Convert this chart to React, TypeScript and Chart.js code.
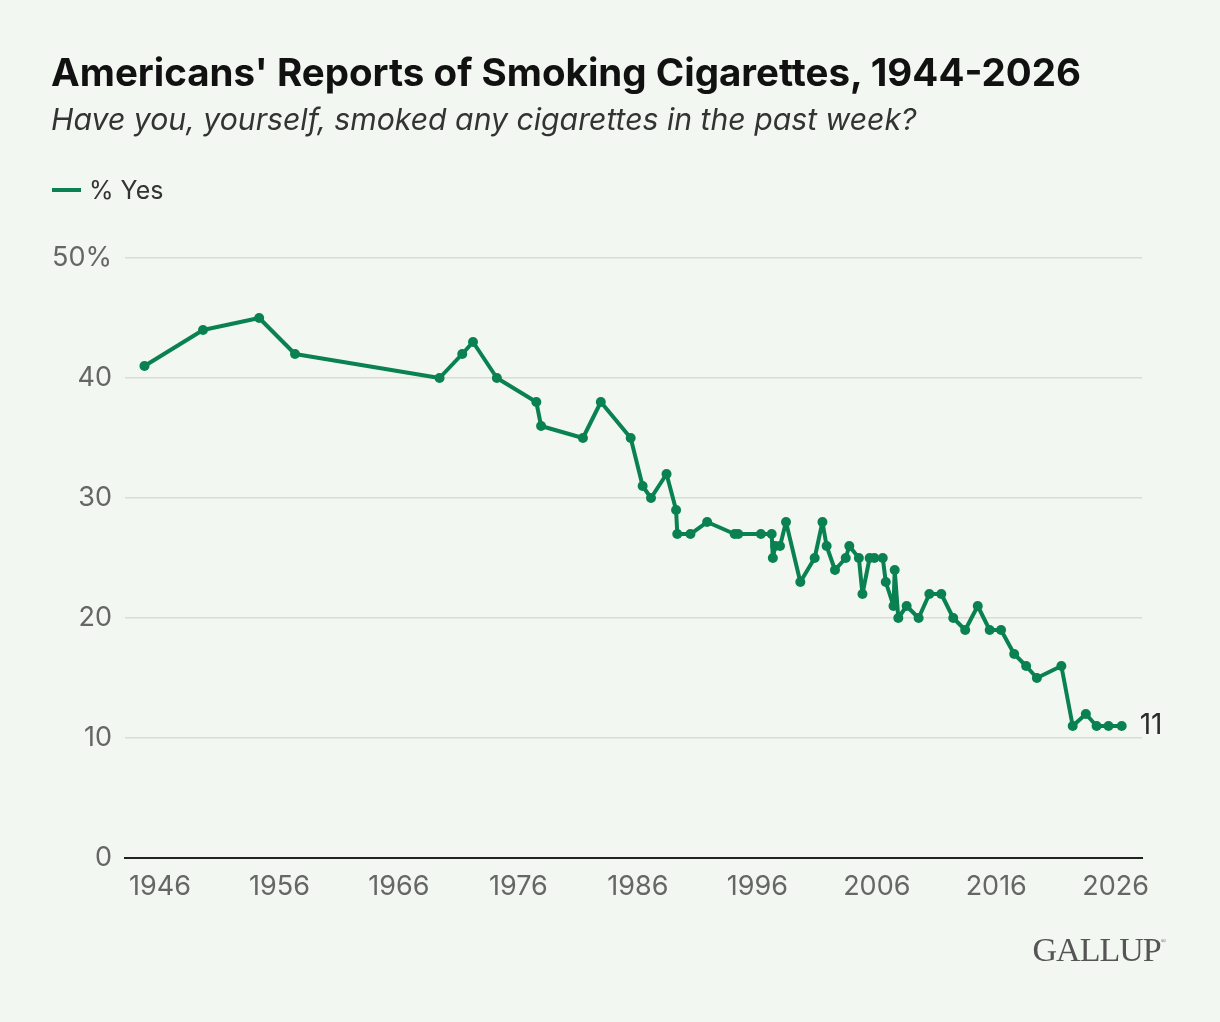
import { useEffect, useRef } from "react";
import { Chart, registerables } from "chart.js";

Chart.register(...registerables);

// Survey dates (decimal years) and % who smoked in past week
const years = [
  1944.7, 1949.6, 1954.3, 1957.3, 1969.4, 1971.3, 1972.2, 1974.2, 1977.5, 1977.9,
  1981.4, 1982.9, 1985.4, 1986.4, 1987.1, 1988.4, 1989.2, 1989.3, 1990.4, 1991.8,
  1994.1, 1994.4, 1996.3, 1997.2, 1997.3, 1997.5, 1997.9, 1998.4, 1999.6, 2000.8,
  2001.45, 2001.8, 2002.5, 2003.4, 2003.7, 2004.5, 2004.8, 2005.4, 2005.8, 2006.5,
  2006.75, 2007.4, 2007.5, 2007.8, 2008.5, 2009.5, 2010.4, 2011.4, 2012.4, 2013.4,
  2014.45, 2015.45, 2016.4, 2017.5, 2018.5, 2019.4, 2021.45, 2022.4, 2023.5, 2024.4,
  2025.4, 2026.5,
];
const yesPct = [
  41, 44, 45, 42, 40, 42, 43, 40, 38, 36,
  35, 38, 35, 31, 30, 32, 29, 27, 27, 28,
  27, 27, 27, 27, 25, 26, 26, 28, 23, 25,
  28, 26, 24, 25, 26, 25, 22, 25, 25, 25,
  23, 21, 24, 20, 21, 20, 22, 22, 20, 19,
  21, 19, 19, 17, 16, 15, 16, 11, 12, 11,
  11, 11,
];
const xTicks = [1946, 1956, 1966, 1976, 1986, 1996, 2006, 2016, 2026];

const GREEN = "#0a8150";
const FONT = "Inter, 'Noto Sans', sans-serif";

// label with the latest value at the end of the line
const endLabel = {
  id: "endLabel",
  afterDatasetsDraw(chart: Chart) {
    const meta = chart.getDatasetMeta(0);
    const last = meta.data[meta.data.length - 1];
    if (!last) return;
    const ctx = chart.ctx;
    ctx.save();
    ctx.font = `28px ${FONT}`;
    ctx.fillStyle = "#2b2b2b";
    ctx.textAlign = "left";
    ctx.textBaseline = "middle";
    ctx.fillText(String(yesPct[yesPct.length - 1]), last.x + 18, last.y);
    ctx.restore();
  },
};

export default function App() {
  const canvasRef = useRef<HTMLCanvasElement>(null);
  const chartRef = useRef<Chart | null>(null);

  useEffect(() => {
    document.body.style.margin = "0";
    if (!canvasRef.current) return;
    const ctx = canvasRef.current.getContext("2d");
    if (!ctx) return;

    chartRef.current?.destroy();
    chartRef.current = new Chart(ctx, {
      type: "line",
      data: {
        datasets: [
          {
            label: "% Yes",
            data: years.map((x, i) => ({ x, y: yesPct[i] })),
            borderColor: GREEN,
            backgroundColor: GREEN,
            borderWidth: 4,
            borderJoinStyle: "round",
            borderCapStyle: "round",
            pointRadius: 5,
            pointBorderWidth: 0,
            pointBackgroundColor: GREEN,
            tension: 0,
          },
        ],
      },
      options: {
        animation: false,
        responsive: false,
        layout: { padding: { top: 258, right: 78, left: 0, bottom: 0 } },
        plugins: { legend: { display: false }, tooltip: { enabled: false } },
        scales: {
          x: {
            type: "linear",
            min: 1943.07,
            max: 2028.2,
            afterBuildTicks: (scale) => {
              scale.ticks = xTicks.map((value) => ({ value }));
            },
            afterFit: (scale) => {
              scale.height = 164;
            },
            grid: { display: false, drawTicks: false },
            border: { display: true, color: "#222", width: 2 },
            ticks: {
              padding: 13,
              color: "#666",
              font: { family: FONT, size: 27 },
              maxRotation: 0,
              autoSkip: false,
              callback: (v) => String(v),
            },
          },
          y: {
            min: 0,
            max: 50,
            afterFit: (scale) => {
              scale.width = 125;
            },
            grid: { color: "#d9ddd6", lineWidth: 1.5, drawTicks: false },
            border: { display: false },
            ticks: {
              stepSize: 10,
              padding: 13,
              color: "#666",
              font: { family: FONT, size: 27 },
              callback: (v) => (v === 50 ? "50%" : String(v)),
            },
          },
        },
      },
      plugins: [endLabel],
    });

    return () => {
      chartRef.current?.destroy();
      chartRef.current = null;
    };
  }, []);

  return (
    <div
      style={{
        position: "relative",
        width: 1220,
        height: 1022,
        background: "#f2f7f1",
        fontFamily: FONT,
        overflow: "hidden",
      }}
    >
      <canvas
        ref={canvasRef}
        width={1220}
        height={1022}
        style={{ position: "absolute", left: 0, top: 0, width: 1220, height: 1022 }}
      />
      <div
        style={{
          position: "absolute",
          left: 51,
          top: 49,
          fontSize: 38.5,
          fontWeight: 700,
          color: "#111",
          whiteSpace: "nowrap",
        }}
      >
        Americans' Reports of Smoking Cigarettes, 1944-2026
      </div>
      <div
        style={{
          position: "absolute",
          left: 51,
          top: 101,
          fontSize: 30.2,
          fontStyle: "italic",
          color: "#333",
          whiteSpace: "nowrap",
        }}
      >
        Have you, yourself, smoked any cigarettes in the past week?
      </div>
      <div
        style={{
          position: "absolute",
          left: 52,
          top: 175,
          display: "flex",
          alignItems: "center",
          fontSize: 25,
          color: "#333",
        }}
      >
        <span style={{ display: "inline-block", width: 29, height: 4, background: GREEN, marginRight: 8 }} />
        % Yes
      </div>
      <div
        style={{
          position: "absolute",
          right: 55,
          top: 931,
          fontFamily: "'Liberation Serif', 'DejaVu Serif', serif",
          fontSize: 34,
          color: "#555",
          letterSpacing: -1,
        }}
      >
        GALLUP<sup style={{ fontSize: 7, verticalAlign: "top", position: "relative", top: 6 }}>®</sup>
      </div>
    </div>
  );
}
